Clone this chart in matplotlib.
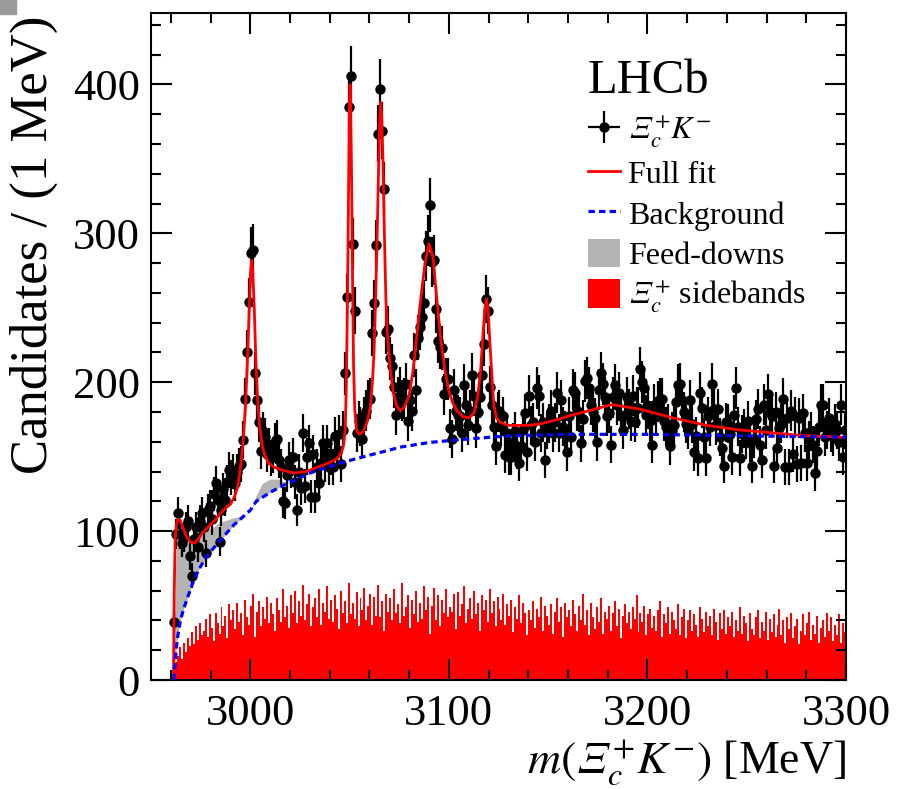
import numpy as np
import matplotlib
matplotlib.use("Agg")
import matplotlib.pyplot as plt
from matplotlib.patches import Patch, Rectangle
from matplotlib.lines import Line2D
from matplotlib.ticker import MultipleLocator

plt.rcParams['font.family'] = ['Liberation Serif', 'DejaVu Serif']
plt.rcParams['mathtext.fontset'] = 'stix'

XI = '\U0001D6EF'  # italic capital Xi

# Xi_c+ K- candidates, 1 MeV bins starting at 2961.5 MeV (bin centre)
first_bin = 2961.5
counts = [
    39, 98, 112, 98, 92, 96, 103, 107, 83, 70,
    95, 103, 89, 107, 112, 103, 85, 114, 117, 108,
    125, 132, 121, 93, 114, 128, 121, 133, 141, 136,
    140, 132, 140, 144,
    145, 161, 189, 220, 254, 287, 289, 206, 188, 173,
    154, 167, 163, 152, 157, 149,
    151, 160, 162, 148, 143, 120, 119, 138, 148, 141,
    150, 133, 114, 140, 129, 166, 130, 150, 159, 123,
    152, 123, 143, 132, 146, 159, 145, 159, 143, 150,
    143, 164, 153, 165, 145, 168,
    206, 257, 385, 406, 293, 248, 166,
    174, 170, 162, 177, 181, 188,
    189, 233, 253, 292, 367, 397, 369, 330, 234,
    236, 216, 211, 197, 178, 190, 196, 188, 189, 199,
    174, 188, 181, 218, 195, 230, 237, 244, 253, 285,
    295, 319, 281, 282, 249, 228, 224, 223, 192, 202,
    202, 169, 162, 195, 181, 178, 177, 166, 198, 185,
    171, 181, 205, 191, 169, 180, 190, 205, 226, 256,
    248, 197, 185, 170, 157,
    180, 181, 170, 177, 151, 166, 150, 150, 160, 167,
    154, 146, 157, 168, 179, 153, 191, 171, 173, 160,
    196, 191, 166, 173, 148, 168, 172, 181, 166, 173,
    193, 166, 188, 170, 168, 153, 177, 163, 195, 193,
    181, 180, 159, 175, 201, 203, 196, 185, 180, 176,
    160, 195, 206, 199, 190,
    177, 179, 158, 190, 198, 185, 193, 177, 168, 178,
    190, 182, 174, 191, 173, 183, 183, 209, 200, 196,
    178, 182, 174, 158, 185, 177, 187, 189, 189, 174,
    170, 172, 157, 167, 171, 187, 198, 199, 188, 180,
    172, 168, 188, 172, 153, 164, 149, 193, 183, 163,
    149, 177, 170, 199, 182, 171, 182, 163, 156, 144,
    173,
    172, 165, 150, 178, 196, 170, 149, 165, 169, 161,
    174, 159, 144, 162, 175, 182, 158, 148, 185, 168,
    192, 180, 177, 144, 180, 156, 169, 172, 189, 143,
    176, 143, 181, 152, 177, 145, 176, 146, 179, 166,
    146, 161, 167, 158, 139, 154, 170, 185, 185, 163,
    168, 176, 166, 163, 172, 168, 160, 185, 150, 168,
]

# Xi_c+ sideband histogram, same binning
sideband = [
    6, 12, 16, 22, 14, 25, 19, 28, 23, 32,
    24, 36, 27, 38, 30, 33, 41, 29, 44, 35,
    26, 45, 38, 31, 49, 36, 43, 28, 51, 40,
    47, 34, 52, 39, 45, 30, 54, 42, 37, 50,
    58, 29, 46, 53, 36, 49, 41, 56, 38, 52,
    44, 33, 55, 47, 39, 61, 42, 50, 35, 57,
    45, 60, 38, 53, 43, 64, 40, 51, 58, 36,
    49, 55, 42, 61, 37, 52, 46, 63, 41, 54,
    39, 57, 48, 34, 60, 45, 53, 38, 65, 44,
    52, 41, 59, 36, 55, 47, 62, 40, 50, 58,
    37, 56, 43, 64, 42, 53, 33, 58, 46, 55,
    40, 61, 45, 51, 38, 65, 43, 49, 57, 35,
    54, 44, 60, 39, 52, 41, 63, 47, 56, 31,
    50, 62, 40, 57, 36, 54, 45, 61, 42, 49,
    46, 58, 34, 59, 43, 51, 63, 38, 48, 55,
    41, 60, 44, 52, 33, 57, 47, 54, 39, 61,
    45, 53, 36, 56, 48, 40, 58, 37, 51, 43,
    54, 32, 49, 41, 57, 38, 52, 45, 30, 47,
    40, 53, 35, 48, 42, 56, 33, 50, 43, 37,
    51, 31, 46, 55, 39, 49, 29, 52, 42, 47,
    36, 54, 44, 33, 50, 40, 58, 37, 47, 30,
    52, 42, 34, 49, 39, 55, 31, 46, 41, 50,
    33, 45, 53, 36, 48, 28, 43, 51, 38, 46,
    34, 49, 41, 57, 32, 45, 39, 50, 30, 44,
    48, 35, 43, 33, 47, 53, 29, 44, 38, 49,
    31, 46, 40, 34, 51, 30, 42, 48, 28, 40,
    47, 33, 44, 37, 29, 49, 41, 32, 46, 36,
    43, 30, 48, 39, 27, 45, 34, 47, 31, 42,
    36, 46, 29, 40, 33, 49, 31, 43, 38, 26,
    45, 34, 30, 42, 47, 28, 39, 33, 46, 27,
    41, 32, 44, 29, 37, 48, 30, 40, 25, 42,
    34, 45, 28, 36, 41, 24, 33, 44, 30, 38,
    46, 27, 37, 31, 43, 25, 35, 40, 29, 45,
    33, 42, 26, 37, 30, 44, 25, 38, 32,
]

# full fit curve
fit_m = [2961.3, 2961.7, 2962.2, 2962.8, 2963.6, 2964.8, 2966.2, 2968, 2970, 2972,
         2974, 2976, 2979, 2982, 2985, 2988, 2990, 2992, 2993.5, 2994.5,
         2995.5, 2996.5, 2997.5, 2998.5, 2999.5, 3000.2, 3000.7, 3001.2, 3002, 3002.8,
         3003.6, 3004.6, 3005.7, 3007, 3009, 3012, 3016, 3022, 3028, 3034,
         3040, 3044, 3046, 3047, 3047.8, 3048.4, 3049, 3049.5, 3049.9, 3050.2,
         3050.5, 3051, 3051.5, 3052, 3052.6, 3053.5, 3055, 3057, 3059, 3060.5,
         3061.5, 3062.3, 3063, 3064, 3064.7, 3065.2, 3065.7, 3066.2, 3066.8, 3067.5,
         3068.3, 3069, 3070.4, 3072, 3073.7, 3075.5, 3077.5, 3080, 3082, 3084,
         3086, 3088, 3090, 3092, 3094, 3096, 3098, 3100, 3102, 3104,
         3107, 3110, 3112.5, 3114.5, 3116, 3117.2, 3118.2, 3119, 3119.8, 3120.6,
         3121.5, 3122.6, 3124, 3126, 3130, 3140, 3146, 3155, 3162, 3171,
         3182, 3196, 3213, 3230, 3246, 3263, 3280, 3300]
fit_v = [0, 60, 95, 105, 108, 107, 102, 96, 92.5, 92,
         95, 99, 103, 107, 112, 116, 118, 123, 129, 137,
         148, 162, 182, 212, 250, 275, 282, 276, 250, 215,
         190, 172, 160, 152, 146, 143, 141, 139, 140, 143,
         146, 149, 153, 158, 168, 200, 262, 330, 385, 400,
         392, 340, 270, 212, 182, 168, 165, 167, 174, 184,
         200, 220, 250, 305, 350, 377, 388, 378, 350, 302,
         255, 233, 210, 193, 184, 181, 183, 191, 208, 233,
         258, 280, 293, 284, 255, 228, 208, 194, 186, 181,
         177, 176, 179, 190, 208, 232, 250, 256, 248, 228,
         208, 185, 176, 173, 171, 171, 172, 175, 178, 181,
         185, 182, 176, 171, 168, 166, 164, 163]

# combinatorial background
bkg_m = [2961.5, 2962.3, 2963.2, 2964.8, 2966.5, 2970.7, 2974, 2978, 2985, 2991.6,
         3000, 3003, 3010, 3017, 3030, 3046, 3060, 3076, 3090, 3106,
         3130, 3160, 3200, 3250, 3300]
bkg_v = [0, 14, 27, 40, 48, 64, 74, 83, 94, 104,
         114, 120, 126, 131, 139, 146, 151, 156.5, 159.5, 161.5,
         164, 165, 165, 164, 163]

# feed-down band (lower edge = background, upper edge = background + feed-downs)
fd_m = [2961.5, 2962.3, 2963.2, 2964.8, 2966.5, 2970.7, 2974, 2978, 2985, 2991.6,
        2996, 3000, 3003, 3006, 3010, 3014, 3017, 3020, 3022]
fd_lo = [0, 14, 27, 40, 48, 64, 74, 83, 94, 104,
         109, 114, 120, 123, 126, 129, 131, 133, 134]
fd_hi = [0, 75, 96, 100, 97, 94, 96, 100, 106, 109,
         110, 114, 124, 132, 135, 135, 133, 133, 134]

mass = first_bin + np.arange(len(counts))
edges = np.append(mass - 0.5, mass[-1] + 0.5)
counts = np.array(counts, dtype=float)

fig = plt.figure(figsize=(8.97, 7.89), dpi=100)
ax = fig.add_axes([151 / 897, 1 - 680 / 789, 695 / 897, 667 / 789])

ax.stairs(sideband, edges, fill=True, color='red', linewidth=0, zorder=1)
ax.fill_between(fd_m, fd_lo, fd_hi, color='#b4b4b4', linewidth=0, zorder=2)
data = ax.errorbar(mass, counts, yerr=np.sqrt(counts), xerr=0.5, fmt='o',
                   color='black', ms=6.5, elinewidth=1.6, capsize=0, zorder=3)
ax.plot(fit_m, fit_v, color='red', lw=2.0, zorder=4)
ax.plot(bkg_m, bkg_v, color='blue', lw=2.3, ls=(0, (2, 1.3)), zorder=4)

ax.set_xlim(2950, 3300)
ax.set_ylim(0, 448)
ax.xaxis.set_major_locator(MultipleLocator(100))
ax.xaxis.set_minor_locator(MultipleLocator(20))
ax.yaxis.set_major_locator(MultipleLocator(100))
ax.yaxis.set_minor_locator(MultipleLocator(20))
ax.tick_params(which='both', direction='in', top=True, right=True, width=1.5,
               labelsize=32)
ax.tick_params(which='major', length=15)
ax.tick_params(which='minor', length=7.5)
ax.tick_params(axis='x', pad=10)
ax.tick_params(axis='y', pad=8)
for s in ax.spines.values():
    s.set_linewidth(1.5)

ax.set_ylabel('Candidates / (1 MeV)', fontsize=38, loc='top')
ax.yaxis.set_label_coords(-0.134, 0.997)
ax.set_xlabel('$m(' + XI + r'_c^{+}K^{-})$ [MeV]', fontsize=33, loc='right',
              labelpad=3)

fig.text(588 / 897, 1 - 93 / 789, 'LHCb', fontsize=35)

handles = [data,
           Line2D([], [], color='red', lw=2.0),
           Line2D([], [], color='blue', lw=2.3, ls=(0, (2, 1.3))),
           Patch(facecolor='#b4b4b4', edgecolor='none'),
           Patch(facecolor='red', edgecolor='none')]
labels = ['$' + XI + r'_c^{+}K^{-}$', 'Full fit', 'Background', 'Feed-downs',
          '$' + XI + r'_c^{+}$ sidebands']
ax.legend(handles, labels, loc='upper left', frameon=False, fontsize=23,
          bbox_to_anchor=(588 / 897, 1 - 114 / 789), bbox_transform=fig.transFigure,
          borderaxespad=0, borderpad=0, handlelength=1.0, handleheight=1.0,
          handletextpad=0.25, labelspacing=0.25)

# small grey mark in the top-left corner of the original image
fig.patches.append(Rectangle((0, 1 - 14 / 789), 16 / 897, 14 / 789,
                             transform=fig.transFigure, color='#9a9a9a'))

fig.savefig('out.png', dpi=100)
